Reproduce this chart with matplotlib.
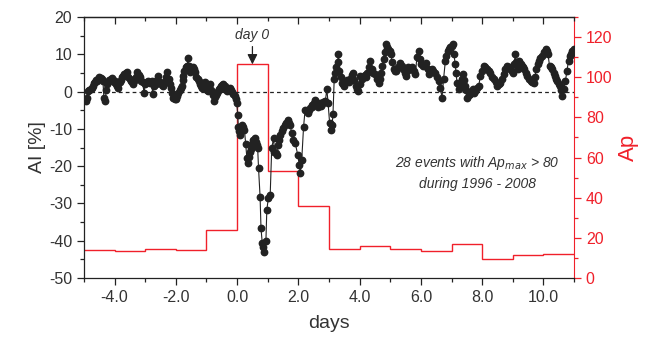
import matplotlib
matplotlib.use("Agg")
import matplotlib.pyplot as plt
from matplotlib.ticker import MultipleLocator

plt.rcParams['font.family'] = ['Liberation Sans', 'DejaVu Sans']
plt.rcParams['axes.unicode_minus'] = False

# Ap daily step values (day -5 .. 11)
ap_edges = [-5, -4, -3, -2, -1, 0, 1, 2, 3, 4, 5, 6, 7, 8, 9, 10, 11]
ap_values = [13.8, 13.3, 14.6, 13.9, 23.7, 106.4, 53.3, 36.0, 14.3, 15.8, 14.3, 13.4, 16.8, 9.5, 11.5, 12.0]

# AI superposed epoch series (days, AI %)
ai_pts = [
    (-4.97,-2.3),(-4.93,-2.5),(-4.89,-1.8),(-4.86,0.2),(-4.82,0.5),(-4.78,0.6),(-4.74,1.0),(-4.70,1.5),
    (-4.67,2.2),(-4.64,2.5),(-4.61,3.0),(-4.59,2.9),(-4.55,3.3),(-4.50,4.0),(-4.46,3.6),(-4.42,3.4),
    (-4.38,2.8),(-4.35,-1.8),(-4.31,-2.5),(-4.27,0.5),(-4.24,2.0),(-4.21,2.5),(-4.17,3.0),(-4.13,3.5),
    (-4.10,3.6),(-4.06,3.2),(-4.02,2.5),(-3.99,2.9),(-3.95,2.0),(-3.91,1.5),(-3.88,1.1),(-3.84,2.5),
    (-3.80,3.2),(-3.77,3.8),(-3.73,4.3),(-3.69,4.8),(-3.64,5.0),(-3.60,5.2),(-3.56,4.0),(-3.51,3.5),
    (-3.47,2.9),(-3.43,2.5),(-3.39,2.0),(-3.34,3.0),(-3.30,4.0),(-3.26,5.2),(-3.21,4.5),(-3.17,3.8),
    (-3.13,2.8),(-3.08,2.5),(-3.04,-0.5),(-3.00,2.0),(-2.95,2.5),(-2.91,2.8),(-2.87,2.5),(-2.83,2.2),
    (-2.79,2.9),(-2.76,-0.7),(-2.72,1.5),(-2.68,2.5),(-2.64,2.0),(-2.61,3.0),(-2.57,4.2),(-2.53,2.5),
    (-2.49,2.2),(-2.45,1.8),(-2.41,1.5),(-2.37,2.5),(-2.33,4.0),(-2.28,5.2),(-2.24,3.5),(-2.19,2.0),
    (-2.15,1.0),(-2.11,-0.5),(-2.08,-1.6),(-2.04,-1.9),(-1.99,-2.1),(-1.95,-1.2),(-1.92,-0.3),(-1.88,0.5),
    (-1.84,1.0),(-1.81,1.5),(-1.78,3.0),(-1.76,4.2),(-1.72,5.5),(-1.68,6.5),(-1.64,6.9),(-1.59,8.9),
    (-1.57,7.0),(-1.54,5.2),(-1.50,5.8),(-1.45,6.5),(-1.41,6.0),(-1.37,5.2),(-1.33,4.0),(-1.29,3.5),
    (-1.26,2.9),(-1.22,2.0),(-1.18,1.5),(-1.15,1.1),(-1.11,1.8),(-1.08,2.2),(-1.05,2.5),(-1.01,1.2),
    (-0.97,0.5),(-0.94,0.2),(-0.91,1.0),(-0.88,2.0),(-0.84,0.5),(-0.80,-1.0),(-0.77,-2.5),(-0.73,-1.5),
    (-0.70,-0.8),(-0.66,-0.3),(-0.62,0.2),(-0.59,0.8),(-0.56,1.1),(-0.52,1.5),(-0.48,1.8),(-0.45,2.0),
    (-0.41,1.5),(-0.38,0.8),(-0.34,0.2),(-0.30,0.5),(-0.27,0.8),(-0.23,1.1),(-0.19,0.5),(-0.16,0.0),
    (-0.12,-0.7),(-0.08,-1.2),(-0.04,-2.0),(-0.01,-3.0),
    (0.02,-6.3),(0.04,-9.4),(0.07,-10.5),(0.10,-11.6),(0.13,-9.5),(0.15,-9.0),(0.20,-9.5),(0.24,-10.3),
    (0.28,-14.0),(0.32,-17.9),(0.35,-19.2),(0.38,-17.5),(0.42,-16.1),(0.46,-15.5),(0.50,-14.0),(0.53,-13.0),
    (0.57,-12.5),(0.61,-13.5),(0.64,-14.3),(0.67,-15.0),(0.70,-20.6),(0.75,-28.2),(0.78,-36.7),(0.82,-40.5),
    (0.86,-41.6),(0.89,-42.9),(0.94,-40.2),(0.97,-31.7),(1.02,-28.6),(1.08,-27.7),(1.13,-15.2),(1.19,-12.5),
    (1.22,-16.1),(1.26,-16.5),(1.30,-17.0),(1.35,-14.3),(1.38,-13.0),(1.41,-11.6),(1.46,-10.5),(1.51,-9.8),
    (1.55,-9.0),(1.59,-8.5),(1.66,-7.6),(1.70,-8.5),(1.73,-9.0),(1.78,-11.0),(1.84,-13.0),(1.90,-13.9),
    (1.98,-17.0),(2.03,-19.7),(2.06,-21.9),(2.11,-18.3),(2.17,-9.4),(2.22,-4.9),(2.27,-5.2),(2.31,-5.8),
    (2.35,-5.0),(2.39,-4.5),(2.43,-4.0),(2.46,-3.6),(2.50,-3.0),(2.55,-2.3),(2.60,-3.5),(2.65,-4.0),
    (2.70,-3.0),(2.73,-3.8),(2.77,-3.4),(2.82,-2.8),(2.88,-2.5),(2.93,0.6),(2.97,-3.0),(3.02,-8.4),
    (3.06,-10.2),(3.10,-9.0),(3.13,-6.1),(3.17,3.3),(3.20,5.0),(3.24,6.5),(3.28,8.0),(3.31,10.1),
    (3.34,5.6),(3.38,4.0),(3.42,2.4),(3.46,2.0),(3.50,1.5),(3.55,2.5),(3.60,3.0),(3.65,2.5),
    (3.69,3.3),(3.74,4.5),(3.78,5.1),(3.83,3.0),(3.88,1.5),(3.92,0.8),(3.96,0.2),(4.00,2.0),
    (4.02,4.2),(4.07,3.5),(4.12,3.8),(4.17,4.5),(4.20,3.8),(4.24,5.1),(4.30,6.5),(4.35,8.3),
    (4.40,6.0),(4.45,5.0),(4.51,4.7),(4.56,3.5),(4.62,2.4),(4.66,3.5),(4.70,5.1),(4.74,7.0),
    (4.78,8.7),(4.82,10.5),(4.87,12.8),(4.90,12.0),(4.94,11.4),(4.98,11.0),(5.02,10.1),(5.06,8.0),
    (5.11,6.0),(5.16,5.5),(5.20,5.6),(5.26,6.5),(5.33,7.8),(5.37,7.0),(5.42,6.0),(5.47,5.0),
    (5.52,4.2),(5.56,5.5),(5.59,6.5),(5.65,6.0),(5.71,6.5),(5.76,5.5),(5.82,4.7),(5.87,9.2),
    (5.93,11.0),(5.98,8.7),(6.02,7.5),(6.07,6.9),(6.12,7.0),(6.18,7.8),(6.22,6.0),(6.25,4.7),
    (6.30,5.5),(6.36,6.0),(6.41,5.5),(6.47,5.1),(6.52,4.0),(6.58,2.9),(6.63,1.1),(6.69,-1.6),
    (6.74,3.3),(6.80,8.3),(6.83,9.5),(6.87,11.0),(6.92,11.5),(6.96,11.9),(7.00,12.3),(7.05,12.8),
    (7.08,10.0),(7.12,7.4),(7.15,5.0),(7.18,2.4),(7.23,0.6),(7.29,2.0),(7.33,3.5),(7.37,4.7),
    (7.41,3.0),(7.45,1.5),(7.48,0.5),(7.51,-1.6),(7.56,-1.0),(7.61,-0.7),(7.65,0.0),(7.70,0.6),
    (7.74,-0.5),(7.78,0.2),(7.84,1.0),(7.89,1.5),(7.94,4.2),(8.00,5.5),(8.05,6.9),(8.10,6.5),
    (8.16,6.0),(8.22,5.5),(8.27,5.1),(8.33,4.0),(8.38,3.3),(8.44,2.5),(8.49,1.5),(8.54,2.0),
    (8.59,2.4),(8.65,3.5),(8.70,4.7),(8.76,6.0),(8.81,6.9),(8.87,6.5),(8.92,6.0),(8.96,5.5),
    (9.01,5.1),(9.05,7.5),(9.08,10.1),(9.12,8.0),(9.16,6.0),(9.19,7.0),(9.22,8.3),(9.26,7.5),
    (9.30,6.9),(9.34,6.5),(9.37,6.0),(9.42,5.0),(9.47,4.2),(9.52,3.5),(9.58,2.9),(9.63,2.5),
    (9.68,2.4),(9.72,4.0),(9.77,6.0),(9.81,7.5),(9.85,8.3),(9.90,9.0),(9.96,9.6),(10.01,10.5),
    (10.07,11.4),(10.11,11.0),(10.15,10.1),(10.20,6.9),(10.24,6.5),(10.28,6.0),(10.34,5.0),(10.39,4.2),
    (10.42,3.5),(10.46,2.9),(10.50,2.0),(10.55,1.5),(10.58,0.5),(10.61,-1.2),(10.66,0.6),(10.72,2.9),
    (10.77,5.6),(10.82,8.3),(10.86,9.5),(10.90,10.1),(10.95,11.0),(10.99,11.4),
]
ai_days = [p[0] for p in ai_pts]
ai_vals = [p[1] for p in ai_pts]

xticks = [-4, -2, 0, 2, 4, 6, 8, 10]
xticklabels = ["-4.0", "-2.0", "0.0", "2.0", "4.0", "6.0", "8.0", "10.0"]
yticks = [20, 10, 0, -10, -20, -30, -40, -50]
ap_ticks = [0, 20, 40, 60, 80, 100, 120]

RED = "#f0202a"
DARK = "#222222"
TXT = "#333333"

fig = plt.figure(figsize=(6.54, 3.41), dpi=100)
ax = fig.add_axes([0.1284, 0.1848, 0.7493, 0.7652])
ax2 = ax.twinx()
ax.set_zorder(ax2.get_zorder() + 1)
ax.patch.set_visible(False)

# Ap steps
ax2.stairs(ap_values, ap_edges, baseline=None, color=RED, lw=1.0)
ax2.set_ylim(0, 130)
ax2.set_yticks(ap_ticks)
ax2.yaxis.set_minor_locator(MultipleLocator(10))
ax2.tick_params(axis='y', which='both', direction='out', colors=RED, labelsize=11.5)
ax2.tick_params(axis='y', which='major', length=5, width=0.9)
ax2.tick_params(axis='y', which='minor', length=3, width=0.9)
ax2.set_ylabel("Ap", color=RED, fontsize=16, labelpad=4)
ax2.spines['right'].set_color(RED)
for s in ['left', 'top', 'bottom']:
    ax2.spines[s].set_visible(False)

# AI series
ax.axhline(0, color=DARK, lw=0.9, ls=(0, (3, 2.5)), zorder=1)
ax.plot(ai_days, ai_vals, color=DARK, lw=0.8, marker='o', ms=4.6,
        mfc=DARK, mec=DARK, zorder=3)

ax.set_xlim(-5, 11)
ax.set_ylim(-50, 20)
ax.set_xticks(xticks)
ax.set_xticklabels(xticklabels)
ax.xaxis.set_minor_locator(MultipleLocator(1))
ax.set_yticks(yticks)
ax.yaxis.set_minor_locator(MultipleLocator(5))
ax.tick_params(axis='both', which='both', direction='out', colors=DARK, labelcolor=TXT, labelsize=11.5)
ax.tick_params(axis='both', which='major', length=5, width=0.9)
ax.tick_params(axis='both', which='minor', length=3, width=0.9)
ax.spines['right'].set_visible(False)
for s in ['left', 'top', 'bottom']:
    ax.spines[s].set_color(DARK)
    ax.spines[s].set_linewidth(0.9)

# top axis: inward ticks, no labels
top = ax.secondary_xaxis('top')
top.set_xticks(xticks)
top.set_xticklabels([])
top.xaxis.set_minor_locator(MultipleLocator(1))
top.tick_params(axis='x', which='both', direction='in', colors=DARK)
top.tick_params(axis='x', which='major', length=5, width=0.9)
top.tick_params(axis='x', which='minor', length=3, width=0.9)
top.spines['top'].set_color(DARK)
top.spines['top'].set_linewidth(0.9)

ax.set_xlabel("days", fontsize=14, color=TXT, labelpad=7)
ax.set_ylabel("AI [%]", fontsize=14, color=TXT, labelpad=2)

# annotations
ax.annotate("day 0", xy=(0.5, 7.3), xytext=(0.5, 13.2), ha='center', va='bottom',
            fontsize=10, style='italic', color=TXT,
            arrowprops=dict(arrowstyle='-|>,head_length=0.6,head_width=0.3', color=DARK, lw=0.9,
                            shrinkA=1, shrinkB=0))
ax.text(7.85, -19.1, r"28 events with Ap$_{max}$ > 80", ha='center', va='center',
        fontsize=10, style='italic', color=TXT)
ax.text(7.85, -24.8, "during 1996 - 2008", ha='center', va='center',
        fontsize=10, style='italic', color=TXT)

fig.savefig("out.png", dpi=100)
